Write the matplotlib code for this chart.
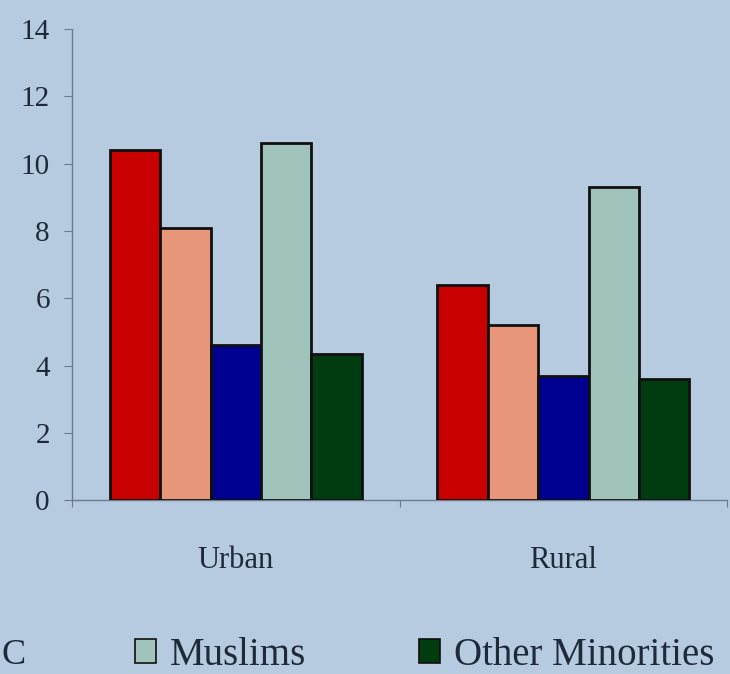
import matplotlib
matplotlib.use("Agg")
import matplotlib.pyplot as plt
from matplotlib.patches import Patch
import numpy as np

categories = ["Urban", "Rural"]
series_names = ["Series 1", "Series 2", "Series 3", "Muslims", "Other Minorities"]
series_values = [
    [10.4, 6.4],
    [8.1, 5.2],
    [4.6, 3.7],
    [10.6, 9.3],
    [4.35, 3.6],
]
series_colors = ["#c80000", "#e8967a", "#000090", "#a0c4bc", "#003c10"]
y_ticks = [0, 2, 4, 6, 8, 10, 12, 14]

bg = "#b6cbe0"
axis_col = "#6e7a8c"
text_col = "#1e2a3a"
font = "Liberation Serif"

fig = plt.figure(figsize=(7.30, 6.74), dpi=100, facecolor=bg)
ax = fig.add_axes([0.0986, 0.258, 0.8974, 0.699])
ax.set_facecolor(bg)

n = len(series_names)
bw = 0.154
xc = np.arange(len(categories)) + 0.5
for i, (name, vals, col) in enumerate(zip(series_names, series_values, series_colors)):
    offs = (i - (n - 1) / 2) * bw
    ax.bar(xc + offs, vals, width=bw, color=col, edgecolor="#101010",
           linewidth=2.0, label=name, zorder=3)

ax.set_xlim(0, len(categories))
ax.set_ylim(0, 14)
ax.set_yticks(y_ticks)
ax.set_yticklabels([str(t) for t in y_ticks], fontsize=21, family=font, color=text_col)
ax.set_xticks(np.arange(len(categories) + 1))
ax.set_xticklabels([])
ax.set_xticks(xc, minor=True)
ax.set_xticklabels(categories, minor=True, fontsize=22, family=font, color=text_col)
ax.tick_params(axis="x", which="minor", length=0, pad=33)
ax.tick_params(axis="x", which="major", length=5, color=axis_col, direction="out")
ax.tick_params(axis="y", length=6, color=axis_col, direction="out", pad=10)

for s in ["top", "right"]:
    ax.spines[s].set_visible(False)
for s in ["left", "bottom"]:
    ax.spines[s].set_color(axis_col)
    ax.spines[s].set_linewidth(1.0)

# Legend (partially cropped in the reference)
handles = [Patch(facecolor=series_colors[3], edgecolor="#101010", linewidth=1.2),
           Patch(facecolor=series_colors[4], edgecolor="#101010", linewidth=1.2)]
leg = fig.legend(handles, series_names[3:], loc="center left",
                 bbox_to_anchor=(0.137, 0.028), ncol=2, frameon=False,
                 prop={"family": font, "size": 28}, handlelength=0.55,
                 handleheight=0.55, handletextpad=0.35, columnspacing=2.9,
                 labelcolor=text_col)
fig.text(0.002, 0.028, "C", family=font, fontsize=26, color=text_col,
         ha="left", va="center")

fig.savefig("out.png", dpi=100, facecolor=bg)
